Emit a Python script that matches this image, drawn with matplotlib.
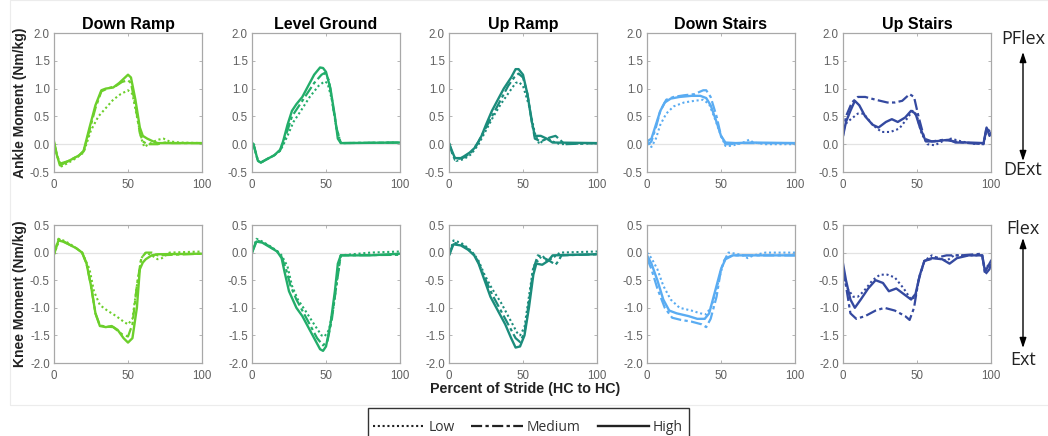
import matplotlib
matplotlib.use("Agg")
import matplotlib.pyplot as plt
from matplotlib.lines import Line2D

# ---- datos ----
tasks = ["Down Ramp", "Level Ground", "Up Ramp", "Down Stairs", "Up Stairs"]
task_colors = ["#6ccf2b", "#22ad6a", "#1b8c7c", "#5aacf2", "#3449a0"]
speed_labels = ["Low", "Medium", "High"]

# Down Ramp - tobillo
dr_ank_low_x = [0, 2, 5, 10, 15, 20, 25, 30, 35, 40, 45, 50, 53, 56, 59, 61, 64, 70, 74, 78, 85, 100]
dr_ank_low_y = [0.02, -0.2, -0.4, -0.33, -0.25, -0.15, 0.25, 0.5, 0.65, 0.8, 0.9, 0.97, 0.9, 0.5, 0.1, -0.05, 0.0, 0.08, 0.1, 0.05, 0.03, 0.02]
dr_ank_med_x = [0, 2, 4, 10, 17, 20, 24, 28, 32, 36, 42, 46, 50, 52, 55, 58, 60, 63, 70, 75, 80, 100]
dr_ank_med_y = [0.03, -0.2, -0.35, -0.3, -0.2, -0.13, 0.25, 0.65, 0.95, 1.0, 1.05, 1.12, 1.15, 1.1, 0.7, 0.2, 0.05, 0.0, 0.0, 0.03, 0.02, 0.02]
dr_ank_high_x = [0, 2, 4, 10, 17, 20, 24, 28, 32, 35, 40, 44, 48, 50, 52, 55, 58, 60, 63, 67, 70, 100]
dr_ank_high_y = [0.05, -0.2, -0.38, -0.3, -0.2, -0.12, 0.3, 0.7, 0.97, 1.0, 1.02, 1.1, 1.2, 1.25, 1.2, 0.8, 0.3, 0.15, 0.1, 0.05, 0.02, 0.02]

# Down Ramp - rodilla
dr_kn_low_x = [0, 4, 10, 15, 19, 24, 27, 31, 36, 42, 47, 50, 53, 56, 59, 62, 66, 70, 73, 78, 100]
dr_kn_low_y = [-0.03, 0.25, 0.17, 0.08, 0.0, -0.3, -0.7, -0.95, -1.05, -1.15, -1.25, -1.3, -1.2, -0.6, -0.1, 0.0, -0.05, -0.12, -0.1, 0.0, 0.02]
dr_kn_med_x = [0, 3, 6, 10, 15, 19, 22, 25, 28, 31, 35, 40, 46, 50, 53, 56, 59, 62, 66, 70, 100]
dr_kn_med_y = [-0.03, 0.25, 0.21, 0.15, 0.08, 0.0, -0.2, -0.6, -1.1, -1.32, -1.34, -1.35, -1.48, -1.52, -1.3, -0.6, -0.1, 0.0, 0.0, -0.05, -0.02]
dr_kn_high_x = [0, 3, 6, 10, 15, 19, 22, 25, 28, 31, 35, 39, 43, 47, 50, 53, 56, 58, 60, 62, 66, 70, 100]
dr_kn_high_y = [-0.03, 0.22, 0.2, 0.15, 0.08, 0.0, -0.2, -0.6, -1.1, -1.33, -1.35, -1.33, -1.4, -1.55, -1.63, -1.55, -1.0, -0.3, -0.18, -0.12, -0.05, -0.03, -0.02]

# Level Ground - tobillo
lg_ank_low_x = [0, 1, 4, 6, 10, 15, 19, 21, 24, 28, 33, 39, 45, 49, 51, 54, 57, 60, 100]
lg_ank_low_y = [0.02, 0.0, -0.3, -0.33, -0.27, -0.2, -0.12, -0.02, 0.15, 0.4, 0.6, 0.85, 1.05, 1.13, 1.1, 0.8, 0.3, 0.02, 0.03]
lg_ank_med_x = [0, 1, 4, 6, 10, 15, 19, 21, 24, 27, 32, 37, 42, 47, 49, 52, 54, 57, 60, 100]
lg_ank_med_y = [0.02, 0.0, -0.3, -0.33, -0.27, -0.2, -0.11, 0.02, 0.25, 0.5, 0.7, 0.9, 1.1, 1.25, 1.28, 1.15, 0.8, 0.3, 0.02, 0.03]
lg_ank_high_x = [0, 1, 4, 6, 10, 15, 19, 21, 24, 27, 30, 34, 38, 42, 46, 48, 50, 53, 56, 58, 60, 100]
lg_ank_high_y = [0.02, 0.0, -0.3, -0.33, -0.27, -0.2, -0.1, 0.05, 0.35, 0.6, 0.72, 0.85, 1.05, 1.25, 1.38, 1.37, 1.3, 1.0, 0.5, 0.1, 0.02, 0.03]

# Level Ground - rodilla
lg_kn_low_x = [0, 3, 7, 12, 17, 20, 24, 27, 31, 36, 42, 47, 49, 52, 55, 58, 60, 80, 100]
lg_kn_low_y = [0.0, 0.25, 0.2, 0.12, 0.03, -0.05, -0.25, -0.6, -0.85, -1.05, -1.3, -1.5, -1.52, -1.4, -1.0, -0.4, -0.05, 0.0, 0.02]
lg_kn_med_x = [0, 3, 7, 12, 17, 20, 23, 26, 30, 34, 39, 44, 48, 51, 54, 57, 60, 100]
lg_kn_med_y = [0.0, 0.22, 0.19, 0.11, 0.02, -0.08, -0.3, -0.6, -0.85, -1.05, -1.3, -1.55, -1.68, -1.6, -1.2, -0.6, -0.05, -0.04]
lg_kn_high_x = [0, 3, 7, 12, 17, 20, 22, 25, 30, 34, 38, 43, 46, 48, 50, 53, 56, 58, 60, 80, 100]
lg_kn_high_y = [0.0, 0.2, 0.18, 0.1, 0.02, -0.1, -0.35, -0.7, -1.0, -1.15, -1.35, -1.6, -1.75, -1.78, -1.7, -1.3, -0.7, -0.2, -0.05, -0.05, -0.02]

# Up Ramp - tobillo
ur_ank_low_x = [0, 2, 5, 10, 15, 20, 25, 30, 35, 41, 45, 47, 50, 54, 58, 61, 64, 67, 70, 75, 100]
ur_ank_low_y = [0.02, -0.15, -0.3, -0.27, -0.18, 0.0, 0.25, 0.5, 0.72, 0.95, 1.1, 1.12, 1.05, 0.7, 0.2, 0.0, 0.08, 0.1, 0.05, 0.0, 0.02]
ur_ank_med_x = [0, 2, 4, 10, 15, 20, 25, 30, 35, 40, 44, 47, 50, 53, 56, 58, 62, 68, 72, 75, 78, 100]
ur_ank_med_y = [0.02, -0.15, -0.28, -0.24, -0.15, 0.05, 0.3, 0.55, 0.8, 1.05, 1.2, 1.27, 1.2, 0.9, 0.4, 0.1, 0.05, 0.12, 0.15, 0.08, 0.0, 0.02]
ur_ank_high_x = [0, 2, 4, 8, 10, 14, 18, 22, 25, 29, 33, 37, 42, 45, 47, 50, 53, 56, 58, 62, 66, 70, 100]
ur_ank_high_y = [0.02, -0.12, -0.25, -0.25, -0.22, -0.15, -0.05, 0.15, 0.35, 0.6, 0.8, 1.0, 1.2, 1.35, 1.35, 1.25, 0.9, 0.4, 0.15, 0.15, 0.1, 0.03, 0.02]

# Up Ramp - rodilla
ur_kn_low_x = [0, 3, 8, 13, 17, 20, 24, 29, 35, 41, 46, 48, 51, 54, 57, 60, 63, 66, 70, 75, 100]
ur_kn_low_y = [-0.05, 0.22, 0.18, 0.08, -0.03, -0.15, -0.4, -0.65, -0.9, -1.2, -1.45, -1.5, -1.35, -0.8, -0.25, -0.15, -0.05, -0.15, -0.1, 0.0, 0.02]
ur_kn_med_x = [0, 3, 8, 13, 17, 20, 24, 29, 34, 40, 45, 48, 51, 54, 57, 60, 63, 68, 72, 74, 76, 100]
ur_kn_med_y = [-0.05, 0.18, 0.15, 0.06, -0.04, -0.18, -0.45, -0.75, -1.0, -1.3, -1.55, -1.62, -1.45, -0.9, -0.3, -0.05, -0.08, -0.15, -0.22, -0.15, -0.05, -0.03]
ur_kn_high_x = [0, 3, 8, 13, 17, 20, 24, 28, 33, 38, 42, 45, 48, 51, 54, 57, 59, 63, 67, 70, 100]
ur_kn_high_y = [-0.05, 0.15, 0.13, 0.05, -0.05, -0.2, -0.5, -0.8, -1.05, -1.3, -1.55, -1.72, -1.7, -1.5, -1.0, -0.4, -0.2, -0.22, -0.15, -0.05, -0.03]

# Down Stairs - tobillo
ds_ank_low_x = [0, 3, 6, 9, 13, 18, 25, 32, 38, 42, 46, 50, 53, 57, 65, 69, 72, 80, 100]
ds_ank_low_y = [0.02, -0.05, 0.1, 0.35, 0.55, 0.68, 0.75, 0.78, 0.8, 0.72, 0.45, 0.15, -0.03, -0.03, 0.03, 0.08, 0.03, 0.0, 0.0]
ds_ank_med_x = [0, 1, 3, 6, 9, 13, 18, 25, 32, 38, 40, 43, 47, 50, 53, 56, 65, 100]
ds_ank_med_y = [0.05, 0.0, 0.05, 0.3, 0.6, 0.8, 0.85, 0.88, 0.9, 0.97, 0.97, 0.85, 0.5, 0.15, 0.0, 0.0, 0.02, 0.02]
ds_ank_high_x = [0, 3, 6, 9, 12, 16, 22, 30, 36, 40, 43, 47, 50, 53, 60, 70, 100]
ds_ank_high_y = [0.05, 0.1, 0.35, 0.6, 0.75, 0.82, 0.85, 0.87, 0.87, 0.83, 0.7, 0.4, 0.15, 0.03, 0.02, 0.03, 0.02]

# Down Stairs - rodilla
ds_kn_low_x = [0, 3, 7, 11, 16, 22, 30, 36, 40, 44, 48, 52, 55, 60, 65, 68, 72, 80, 100]
ds_kn_low_y = [0.0, -0.1, -0.3, -0.6, -0.85, -1.0, -1.05, -1.1, -1.12, -0.95, -0.55, -0.15, 0.0, -0.02, -0.05, -0.1, -0.05, 0.0, 0.0]
ds_kn_med_x = [0, 3, 7, 12, 17, 23, 30, 37, 40, 43, 47, 50, 53, 58, 100]
ds_kn_med_y = [-0.1, -0.3, -0.65, -1.0, -1.18, -1.22, -1.25, -1.3, -1.35, -1.2, -0.8, -0.3, -0.1, -0.05, -0.05]
ds_kn_high_x = [0, 3, 7, 11, 15, 20, 28, 34, 39, 42, 46, 50, 53, 58, 100]
ds_kn_high_y = [-0.05, -0.2, -0.5, -0.85, -1.05, -1.1, -1.15, -1.2, -1.2, -1.1, -0.7, -0.3, -0.12, -0.05, -0.05]

# Up Stairs - tobillo
us_ank_low_x = [0, 3, 10, 14, 20, 26, 32, 38, 43, 47, 50, 53, 57, 62, 67, 73, 80, 90, 95, 97, 100]
us_ank_low_y = [0.3, 0.4, 0.55, 0.55, 0.35, 0.22, 0.22, 0.28, 0.45, 0.6, 0.5, 0.2, 0.0, -0.02, 0.05, 0.1, 0.05, 0.0, 0.02, 0.25, 0.2]
us_ank_med_x = [0, 2, 6, 10, 15, 22, 30, 35, 40, 45, 48, 51, 55, 60, 68, 75, 85, 95, 97, 100]
us_ank_med_y = [0.15, 0.5, 0.75, 0.85, 0.85, 0.8, 0.75, 0.75, 0.78, 0.9, 0.85, 0.5, 0.1, 0.05, 0.08, 0.05, 0.02, 0.0, 0.3, 0.2]
us_ank_high_x = [0, 2, 5, 8, 11, 15, 20, 24, 29, 33, 37, 42, 46, 49, 52, 56, 62, 68, 72, 76, 85, 95, 97, 99, 100]
us_ank_high_y = [0.15, 0.4, 0.6, 0.78, 0.7, 0.5, 0.35, 0.3, 0.4, 0.45, 0.4, 0.48, 0.6, 0.55, 0.3, 0.05, 0.05, 0.07, 0.08, 0.03, 0.03, 0.02, 0.3, 0.15, 0.2]

# Up Stairs - rodilla
us_kn_low_x = [0, 3, 7, 10, 14, 20, 25, 30, 35, 41, 46, 49, 52, 55, 60, 64, 70, 75, 85, 94, 96, 99, 100]
us_kn_low_y = [-0.4, -0.65, -0.8, -0.8, -0.7, -0.5, -0.4, -0.4, -0.45, -0.65, -0.85, -0.8, -0.4, -0.15, -0.05, -0.1, -0.15, -0.05, -0.05, -0.05, -0.3, -0.2, -0.25]
us_kn_med_x = [0, 2, 5, 9, 15, 22, 28, 35, 42, 45, 48, 51, 55, 62, 70, 80, 94, 96, 99, 100]
us_kn_med_y = [-0.3, -0.6, -1.1, -1.2, -1.15, -1.05, -1.0, -1.05, -1.15, -1.22, -1.0, -0.5, -0.15, -0.1, -0.05, -0.05, -0.02, -0.4, -0.3, -0.2]
us_kn_high_x = [0, 2, 5, 8, 12, 17, 22, 27, 31, 36, 41, 46, 49, 52, 55, 60, 67, 72, 77, 85, 94, 96, 99, 100]
us_kn_high_y = [-0.2, -0.5, -0.85, -1.0, -0.85, -0.65, -0.5, -0.55, -0.7, -0.65, -0.75, -0.85, -0.75, -0.4, -0.15, -0.1, -0.12, -0.2, -0.1, -0.05, -0.05, -0.35, -0.2, -0.15]

ankle_curves = [
    [(dr_ank_low_x, dr_ank_low_y), (dr_ank_med_x, dr_ank_med_y), (dr_ank_high_x, dr_ank_high_y)],
    [(lg_ank_low_x, lg_ank_low_y), (lg_ank_med_x, lg_ank_med_y), (lg_ank_high_x, lg_ank_high_y)],
    [(ur_ank_low_x, ur_ank_low_y), (ur_ank_med_x, ur_ank_med_y), (ur_ank_high_x, ur_ank_high_y)],
    [(ds_ank_low_x, ds_ank_low_y), (ds_ank_med_x, ds_ank_med_y), (ds_ank_high_x, ds_ank_high_y)],
    [(us_ank_low_x, us_ank_low_y), (us_ank_med_x, us_ank_med_y), (us_ank_high_x, us_ank_high_y)],
]
knee_curves = [
    [(dr_kn_low_x, dr_kn_low_y), (dr_kn_med_x, dr_kn_med_y), (dr_kn_high_x, dr_kn_high_y)],
    [(lg_kn_low_x, lg_kn_low_y), (lg_kn_med_x, lg_kn_med_y), (lg_kn_high_x, lg_kn_high_y)],
    [(ur_kn_low_x, ur_kn_low_y), (ur_kn_med_x, ur_kn_med_y), (ur_kn_high_x, ur_kn_high_y)],
    [(ds_kn_low_x, ds_kn_low_y), (ds_kn_med_x, ds_kn_med_y), (ds_kn_high_x, ds_kn_high_y)],
    [(us_kn_low_x, us_kn_low_y), (us_kn_med_x, us_kn_med_y), (us_kn_high_x, us_kn_high_y)],
]

ankle_ticks = [-0.5, 0.0, 0.5, 1.0, 1.5, 2.0]
knee_ticks = [-2.0, -1.5, -1.0, -0.5, 0.0, 0.5]
x_ticks = [0, 50, 100]

# estilos de linea por velocidad
styles = [
    dict(linestyle=(0, (1, 1.3)), lw=1.5),
    dict(linestyle=(0, (5, 1.5, 1.5, 1.5)), lw=1.6),
    dict(linestyle="-", lw=1.7),
]

W, H = 1048, 436
fig = plt.figure(figsize=(W / 100, H / 100), dpi=100)

lefts = [54, 252, 449, 647, 843]
ax_w = 148


def make_ax(left_px, top_px, bottom_px):
    return fig.add_axes([left_px / W, 1 - bottom_px / H, ax_w / W, (bottom_px - top_px) / H])


def style_ax(ax, yticks):
    ax.set_xlim(0, 100)
    ax.set_ylim(yticks[0], yticks[-1])
    ax.set_xticks(x_ticks)
    ax.set_yticks(yticks)
    ax.set_yticklabels(["%.1f" % t for t in yticks])
    ax.axhline(0, color="#e3e3e3", lw=0.9, zorder=0)
    for s in ax.spines.values():
        s.set_color("#a8a8a8")
        s.set_linewidth(0.9)
    ax.tick_params(direction="in", length=2, width=0.6, color="#a8a8a8",
                   top=True, right=True, labelsize=8.3, labelcolor="#606060", pad=3)
    ax.tick_params(axis="x", pad=5)
    for lab in ax.get_xticklabels() + ax.get_yticklabels():
        lab.set_family("Liberation Sans")


for i in range(5):
    ax1 = make_ax(lefts[i], 33, 172)
    for (xs, ys), st in zip(ankle_curves[i], styles):
        ax1.plot(xs, ys, color=task_colors[i], **st)
    style_ax(ax1, ankle_ticks)
    ax1.set_title(tasks[i], fontsize=11.5, fontweight="bold", family="Liberation Sans", pad=3)

    ax2 = make_ax(lefts[i], 225, 363)
    for (xs, ys), st in zip(knee_curves[i], styles):
        ax2.plot(xs, ys, color=task_colors[i], **st)
    style_ax(ax2, knee_ticks)

fig.text(20.5 / W, 1 - 103 / H, "Ankle Moment (Nm/kg)", rotation=90, ha="center", va="center",
         fontsize=10, fontweight="bold", family="Liberation Sans", color="#222222")
fig.text(20.5 / W, 1 - 294 / H, "Knee Moment (Nm/kg)", rotation=90, ha="center", va="center",
         fontsize=10, fontweight="bold", family="Liberation Sans", color="#222222")
fig.text(525 / W, 1 - 389 / H, "Percent of Stride (HC to HC)", ha="center", va="center",
         fontsize=10.3, fontweight="bold", family="Liberation Sans", color="#222222")

# flechas de direccion a la derecha
for top_txt, bot_txt, y_top, y_a1, y_a2, y_bot in [("PFlex", "DExt", 39, 52, 161, 170),
                                                     ("Flex", "Ext", 229, 238, 348, 360)]:
    fig.text(1023 / W, 1 - y_top / H, top_txt, ha="center", va="center", fontsize=13,
             family="Open Sans", color="#222222")
    fig.text(1023 / W, 1 - y_bot / H, bot_txt, ha="center", va="center", fontsize=13,
             family="Open Sans", color="#222222")
    fig.add_artist(plt.Annotation("", xy=(1023 / W, 1 - y_a1 / H), xytext=(1023 / W, 1 - y_a2 / H),
                                  xycoords="figure fraction", textcoords="figure fraction",
                                  arrowprops=dict(arrowstyle="<|-|>,head_length=0.6,head_width=0.2",
                                                  color="black", lw=1.0, shrinkA=0, shrinkB=0)))

# borde tenue del panel
fig.add_artist(plt.Rectangle((10 / W, 1 - 405 / H), 1.0, 405 / H, transform=fig.transFigure,
                             fill=False, edgecolor="#ececec", lw=0.8))

handles = [Line2D([], [], color="#222222", **st) for st in styles]
leg = fig.legend(handles, speed_labels, loc="upper center", bbox_to_anchor=(528 / W, 1 - 415 / H),
                 ncol=3, frameon=False, handlelength=3.7,
                 handletextpad=0.3, columnspacing=1.2, borderpad=0.35, borderaxespad=0,
                 prop={"family": "Open Sans", "size": 10})
for t in leg.get_texts():
    t.set_color("#333333")
# marco de la leyenda (cortado por el borde inferior como en el original)
fig.add_artist(plt.Rectangle((368 / W, -10 / H), 321 / W, 28 / H + 10 / H, transform=fig.transFigure,
                             fill=False, edgecolor="#333333", lw=1.0))

fig.savefig("out.png", dpi=100)
